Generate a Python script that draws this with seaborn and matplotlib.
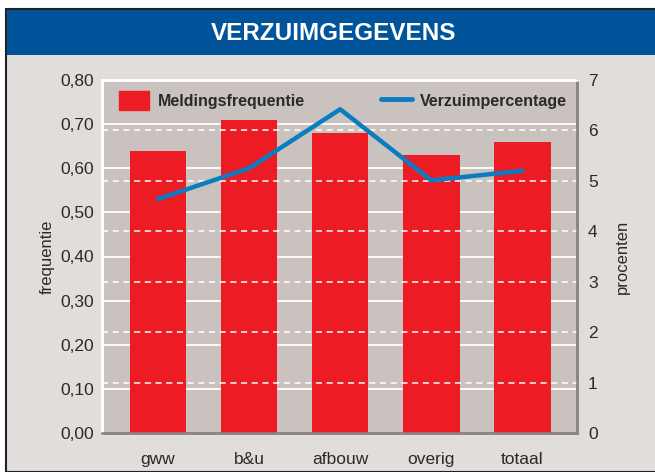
import matplotlib
matplotlib.use("Agg")
import matplotlib.pyplot as plt
import matplotlib.patches as mpatches
from matplotlib.lines import Line2D
import seaborn as sns
import pandas as pd

# verzuimgegevens per sector
categories = ["gww", "b&u", "afbouw", "overig", "totaal"]
frequentie = [0.64, 0.71, 0.68, 0.63, 0.66]
procenten = [4.64, 5.25, 6.42, 5.01, 5.20]
left_ticks = [0.0, 0.1, 0.2, 0.3, 0.4, 0.5, 0.6, 0.7, 0.8]
right_ticks = [0, 1, 2, 3, 4, 5, 6, 7]

df = pd.DataFrame({"sector": categories, "frequentie": frequentie, "procenten": procenten})

sns.set_style("white")
plt.rcParams["font.family"] = ["Liberation Sans Narrow", "Liberation Sans", "DejaVu Sans"]

bg = "#e1dddb"
face = "#c9c2bf"
red = "#ed1c24"
blue = "#0a7cc2"
blue_band = "#01549a"
txt = "#2a2a2a"

fig = plt.figure(figsize=(6.55, 4.72), dpi=100)
fig.patch.set_facecolor("white")

# frame and title band
W, H = 655, 472
fig.patches.append(mpatches.Rectangle((6 / W, 0), 1, 1 - 9 / H, transform=fig.transFigure,
                                      facecolor=bg, edgecolor="#222222", linewidth=1.5, zorder=0))
fig.patches.append(mpatches.Rectangle((7 / W, 1 - 55 / H), 1, 45 / H, transform=fig.transFigure,
                                      facecolor=blue_band, edgecolor="none", zorder=1))
fig.text(334 / W, 1 - 34 / H, "VERZUIMGEGEVENS", color="white", fontsize=17.5, fontweight="bold",
         ha="center", va="center")

ax = fig.add_axes([102 / W, 1 - 433 / H, 475 / W, 353 / H])
ax.set_facecolor(face)
sns.barplot(data=df, x="sector", y="frequentie", color=red, width=0.62, saturation=1, ax=ax,
            zorder=3, edgecolor="none", linewidth=0)
ax.set_ylim(0, 0.8)
ax.set_xlim(-0.615, 4.6)
ax.set_yticks(left_ticks)
ax.set_yticklabels([f"{v:.2f}".replace(".", ",") for v in left_ticks])
for v in left_ticks[1:-1]:
    ax.axhline(v, color="white", linewidth=1.3, zorder=1)
ax.set_xlabel("")
ax.set_ylabel("frequentie", fontsize=12, color=txt, labelpad=4)
ax.tick_params(axis="y", length=0, labelsize=12.5, colors=txt, pad=6)
ax.tick_params(axis="x", length=0, labelsize=12.5, colors=txt, pad=14)

ax2 = ax.twinx()
ax2.set_ylim(0, 7)
for v in right_ticks[1:-1]:
    ax2.axhline(v, color="white", linewidth=1.1, linestyle=(0, (4, 3)), zorder=1)
sns.lineplot(x=range(len(categories)), y=procenten, color=blue, linewidth=3.2, ax=ax2, zorder=4)
ax2.set_yticks(right_ticks)
ax2.set_yticklabels([str(v) for v in right_ticks])
ax2.set_ylabel("procenten", fontsize=12, color=txt, labelpad=12)
ax2.tick_params(length=0, labelsize=12.5, colors=txt, pad=8)
ax2.set_xlim(-0.615, 4.6)
ax.set_zorder(1)
ax2.set_zorder(2)
ax2.patch.set_visible(False)

for a in (ax, ax2):
    a.spines["left"].set_color("white")
    a.spines["top"].set_color("white")
    a.spines["bottom"].set_color("#8c8482")
    a.spines["right"].set_color("#8c8482")
    for s in a.spines.values():
        s.set_linewidth(1.8)

handles = [mpatches.Patch(color=red, label="Meldingsfrequentie"),
           Line2D([0], [0], color=blue, linewidth=3.5, label="Verzuimpercentage")]
leg = ax2.legend(handles=handles, ncol=2, loc="upper left", bbox_to_anchor=(0.036, 0.968),
                 borderaxespad=0, borderpad=0, frameon=False, columnspacing=4.8,
                 handlelength=1.9, handleheight=1.4, handletextpad=0.5,
                 prop={"weight": "bold", "size": 11.5})
for t in leg.get_texts():
    t.set_color(txt)

fig.savefig("out.png", dpi=100, facecolor=fig.get_facecolor())
